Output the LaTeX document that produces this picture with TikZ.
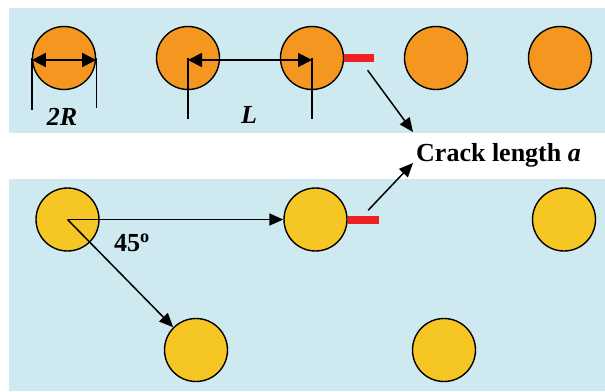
\documentclass[tikz,border=0pt]{standalone}
\usepackage{fontspec}
\setmainfont{Liberation Serif}
\usetikzlibrary{arrows.meta,calc}
\definecolor{panelblue}{RGB}{206,234,240}
\definecolor{orangefill}{RGB}{244,150,32}
\definecolor{yellowfill}{RGB}{245,198,36}
\definecolor{crackred}{RGB}{237,32,36}
\begin{document}
\begin{tikzpicture}[x=1pt,y=-1pt,
  pore/.style={circle, draw=black, line width=1.4pt, minimum size=63pt, inner sep=0pt},
  orangepore/.style={pore, fill=orangefill},
  yellowpore/.style={pore, fill=yellowfill},
  arr/.style={line width=1.5pt, -{Triangle[length=14pt,width=12pt]}},
  dimarr/.style={line width=1.8pt, {Triangle[length=14pt,width=14pt]}-{Triangle[length=14pt,width=14pt]}},
  extline/.style={line width=1.4pt},
  crack/.style={fill=crackred, draw=none, minimum width=30pt, minimum height=8pt, inner sep=0pt, anchor=west},
  lbl/.style={font=\fontsize{26}{31}\selectfont\bfseries, inner sep=0pt}]
\useasboundingbox (0,0) rectangle (605,391);
\fill[white] (0,0) rectangle (605,391);
\fill[panelblue] (9,8) rectangle (605,133);
\fill[panelblue] (9,179) rectangle (605,391);
% top row
\node[orangepore] (t1) at (64,58) {};
\node[orangepore] (t2) at (188,58) {};
\node[orangepore] (t3) at (312,58) {};
\node[orangepore] (t4) at (436,58) {};
\node[orangepore] (t5) at (560,58) {};
\draw[extline] (t1.west) -- ++(0,52);
\draw[extline] (t1.east) -- ++(0,50);
\draw[dimarr] ($(t1.west)+(0,2)$) -- ($(t1.east)+(0,2)$);
\draw[extline] (t2.center) -- ++(0,61);
\draw[extline] (t3.center) -- ++(0,61);
\draw[dimarr] ($(t2.center)+(0,2)$) -- ($(t3.center)+(0,2)$);
\node[lbl, anchor=base] (lab2R) at (62,125) {\itshape 2R};
\node[lbl, anchor=base] (labL) at (249,123) {\itshape L};
\node[crack] (ck1) at (t3.east) {};
% bottom rows
\node[yellowpore] (b1) at (67.5,219.5) {};
\node[yellowpore] (b2) at (315.5,219.5) {};
\node[yellowpore] (b3) at (564,219.5) {};
\node[yellowpore] (b4) at (196,350) {};
\node[yellowpore] (b5) at (444,350) {};
\draw[arr] (b1.center) -- (b2.west);
\draw[arr] (b1.center) -- (b4.135);
\node[crack, minimum width=31pt] (ck2) at (b2.east) {};
\node[lbl, anchor=base west] (ang) at (114,251.5) {45\textsuperscript{o}};
% crack label
\node[lbl, anchor=base west] (crk) at (416,161) {Crack length \textit{a}};
\coordinate (tailA) at ($(ck1.south east)+(-7,8)$);
\coordinate (tipA) at (413,132);
\coordinate (tailB) at ($(ck2.north east)+(-11,-5)$);
\coordinate (tipB) at (413,163);
\draw[arr] (tailA) -- (tipA);
\draw[arr] (tailB) -- (tipB);
\end{tikzpicture}
\end{document}
